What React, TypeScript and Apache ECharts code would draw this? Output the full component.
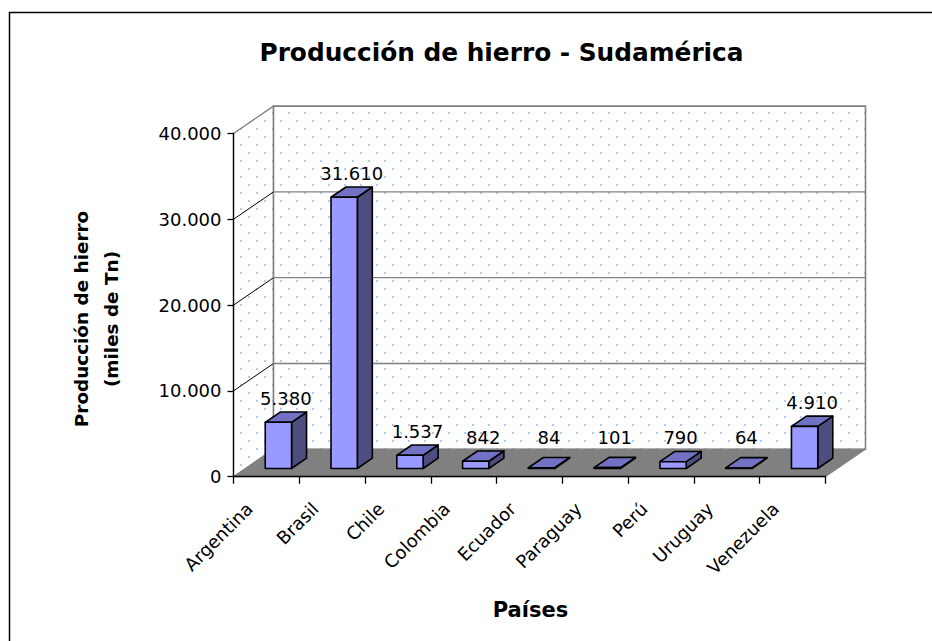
import React, { useEffect, useRef } from 'react';
import * as echarts from 'echarts';

const categories = ['Argentina', 'Brasil', 'Chile', 'Colombia', 'Ecuador', 'Paraguay', 'Perú', 'Uruguay', 'Venezuela'];
const production = [5380, 31610, 1537, 842, 84, 101, 790, 64, 4910];
const yTicks = [0, 10000, 20000, 30000, 40000];
const titleText = 'Producción de hierro - Sudamérica';
const xAxisTitle = 'Países';
const yAxisTitle = 'Producción de hierro\n(miles de Tn)';

const DEPTH = [40, -27.4];
const BAR_FRONT = 0.3;
const BAR_BACK = 0.675;
const BAR_WIDTH = 0.4;
const FONT = 'DejaVu Sans';

function fmt(v: number): string {
  return String(v).replace(/\B(?=(\d{3})+(?!\d))/g, '.');
}

function makePattern(): any {
  const c = document.createElement('canvas');
  c.width = 16;
  c.height = 16;
  const ctx = c.getContext('2d')!;
  ctx.fillStyle = '#ffffff';
  ctx.fillRect(0, 0, 16, 16);
  ctx.fillStyle = '#a6cfff';
  ctx.fillRect(0, 0, 2, 2);
  ctx.fillRect(8, 8, 2, 2);
  return { image: c, repeat: 'repeat', imageWidth: 16, imageHeight: 16 };
}

export default function App() {
  const ref = useRef<HTMLDivElement>(null);
  useEffect(() => {
    if (!ref.current) return;
    const chart = echarts.init(ref.current, null, { renderer: 'svg' });
    const pattern = makePattern();
    const yMax = yTicks[yTicks.length - 1];
    const [dx, dy] = DEPTH;

    const wallsRender = (params: any, api: any) => {
      const catW = api.size([1, 0])[0];
      const x0 = api.coord([0, 0])[0] - catW / 2;
      const x1 = api.coord([categories.length - 1, 0])[0] + catW / 2;
      const yTop = api.coord([0, yMax])[1];
      const yBot = api.coord([0, 0])[1];
      const children: any[] = [];
      children.push({
        type: 'polygon',
        shape: { points: [[x0, yTop], [x0 + dx, yTop + dy], [x0 + dx, yBot + dy], [x0, yBot]] },
        style: { fill: pattern, stroke: '#808080', lineWidth: 1.3 },
      });
      children.push({
        type: 'rect',
        shape: { x: x0 + dx, y: yTop + dy, width: x1 - x0, height: yBot - yTop },
        style: { fill: pattern, stroke: '#808080', lineWidth: 1.6 },
      });
      yTicks.forEach((t) => {
        if (t === 0 || t === yMax) return;
        const y = api.coord([0, t])[1];
        children.push({
          type: 'line',
          shape: { x1: x0, y1: y, x2: x0 + dx, y2: y + dy },
          style: { stroke: '#000', lineWidth: 1 },
        });
        children.push({
          type: 'line',
          shape: { x1: x0 + dx, y1: y + dy, x2: x1 + dx, y2: y + dy },
          style: { stroke: '#808080', lineWidth: 1.3 },
        });
      });
      children.push({
        type: 'polygon',
        shape: { points: [[x0, yBot], [x1, yBot], [x1 + dx, yBot + dy], [x0 + dx, yBot + dy]] },
        style: { fill: '#808080', stroke: '#808080', lineWidth: 1 },
      });
      return { type: 'group', children };
    };

    const barsRender = (params: any, api: any) => {
      const i = api.value(0);
      const v = api.value(1);
      const c = api.coord([i, v]);
      const b = api.coord([i, 0]);
      const catW = api.size([1, 0])[0];
      const w = catW * BAR_WIDTH;
      const fx = c[0] - w / 2 + dx * BAR_FRONT;
      const fyTop = c[1] + dy * BAR_FRONT;
      const fyBot = b[1] + dy * BAR_FRONT;
      const ddx = dx * (BAR_BACK - BAR_FRONT);
      const ddy = dy * (BAR_BACK - BAR_FRONT);
      const stroke = { stroke: '#000', lineWidth: 1.6, lineJoin: 'round' };
      const labelX = c[0] + dx * (BAR_FRONT + BAR_BACK) / 2;
      const labelY = Math.min(fyTop + ddy - 13.5, b[1] + dy - 12);
      return {
        type: 'group',
        children: [
          {
            type: 'polygon',
            shape: { points: [[fx + w, fyTop], [fx + w + ddx, fyTop + ddy], [fx + w + ddx, fyBot + ddy], [fx + w, fyBot]] },
            style: { fill: '#4d4d80', ...stroke },
          },
          {
            type: 'polygon',
            shape: { points: [[fx, fyTop], [fx + w, fyTop], [fx + w + ddx, fyTop + ddy], [fx + ddx, fyTop + ddy]] },
            style: { fill: '#7272c4', ...stroke },
          },
          {
            type: 'rect',
            shape: { x: fx, y: fyTop, width: w, height: fyBot - fyTop },
            style: { fill: '#9999ff', ...stroke },
          },
          {
            type: 'text',
            x: labelX,
            y: labelY,
            style: {
              text: fmt(v),
              fill: '#000',
              fontSize: 18,
              fontFamily: FONT,
              align: 'center',
              verticalAlign: 'middle',
            },
          },
        ],
      };
    };

    chart.setOption({
      animation: false,
      backgroundColor: '#ffffff',
      grid: { left: 233.5, right: 106.5, top: 133.5, bottom: 164.3, containLabel: false },
      xAxis: {
        type: 'category',
        data: categories,
        boundaryGap: true,
        z: 10,
        axisLine: { show: true, lineStyle: { color: '#000', width: 1.3 } },
        axisTick: { show: true, length: 7, interval: 0, alignWithLabel: false, lineStyle: { color: '#000', width: 1.3 } },
        axisLabel: {
          interval: 0,
          rotate: 45,
          margin: 12,
          color: '#000',
          fontSize: 18,
          fontFamily: FONT,
          padding: [0, 24, 0, 0],
        },
        splitLine: { show: false },
      },
      yAxis: {
        type: 'value',
        min: 0,
        max: yMax,
        interval: 10000,
        z: 10,
        axisLine: { show: true, lineStyle: { color: '#000', width: 1.3 } },
        axisTick: { show: true, length: 6, lineStyle: { color: '#000', width: 1.3 } },
        axisLabel: {
          margin: 12,
          color: '#000',
          fontSize: 18,
          fontFamily: FONT,
          formatter: (v: number) => fmt(v),
        },
        splitLine: { show: false },
      },
      graphic: [
        {
          type: 'rect',
          shape: { x: 9.5, y: 12.5, width: 1000, height: 1000 },
          style: { fill: 'none', stroke: '#000', lineWidth: 1.5 },
          silent: true,
        },
        {
          type: 'text',
          x: 501.5,
          y: 52,
          style: {
            text: titleText,
            fill: '#000',
            fontSize: 24.8,
            fontWeight: 'bold',
            fontFamily: FONT,
            align: 'center',
            verticalAlign: 'middle',
          },
        },
        {
          type: 'text',
          x: 530.5,
          y: 609.5,
          style: {
            text: xAxisTitle,
            fill: '#000',
            fontSize: 21,
            fontWeight: 'bold',
            fontFamily: FONT,
            align: 'center',
            verticalAlign: 'middle',
          },
        },
        {
          type: 'text',
          x: 96.5,
          y: 319,
          rotation: Math.PI / 2,
          style: {
            text: yAxisTitle,
            fill: '#000',
            fontSize: 18.4,
            lineHeight: 30,
            fontWeight: 'bold',
            fontFamily: FONT,
            align: 'center',
            verticalAlign: 'middle',
          },
        },
      ],
      series: [
        {
          type: 'custom',
          name: 'walls',
          coordinateSystem: 'cartesian2d',
          clip: false,
          silent: true,
          z: 1,
          renderItem: wallsRender,
          data: [[0, 0]],
          encode: { x: 0, y: 1 },
        },
        {
          type: 'custom',
          name: 'Producción',
          coordinateSystem: 'cartesian2d',
          clip: false,
          silent: true,
          z: 3,
          renderItem: barsRender,
          data: production.map((v, i) => [i, v]),
          encode: { x: 0, y: 1 },
        },
      ],
    });
    return () => chart.dispose();
  }, []);
  return (
    <div
      ref={ref}
      style={{ position: 'fixed', left: 0, top: 0, width: 932, height: 641, background: '#fff' }}
    />
  );
}
